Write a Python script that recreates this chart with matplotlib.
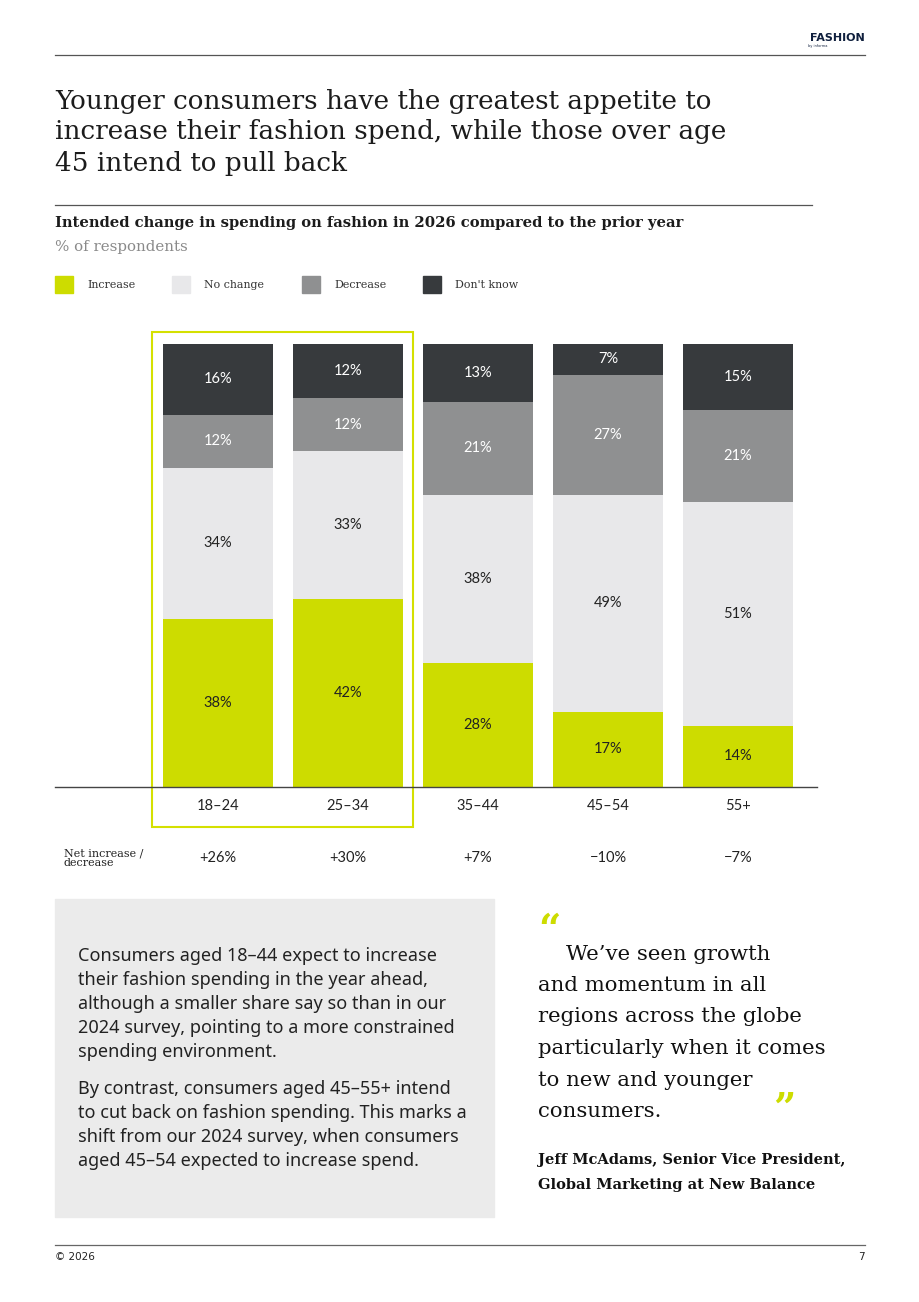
import numpy as np
import matplotlib.pyplot as plt
from matplotlib.patches import Rectangle

# data
ages = ["18–24", "25–34", "35–44", "45–54", "55+"]
increase = [38, 42, 28, 17, 14]
no_change = [34, 33, 38, 49, 51]
decrease = [12, 12, 21, 27, 21]
dont_know = [16, 12, 13, 7, 15]
net_labels = ["+26%", "+30%", "+7%", "−10%", "−7%"]

series_names = ["Increase", "No change", "Decrease", "Don't know"]
colors = ["#CDDC00", "#E8E8EA", "#8F9091", "#373A3D"]
label_colors = ["#222222", "#222222", "white", "white"]

W, H = 920, 1302
fig = plt.figure(figsize=(W / 100, H / 100), dpi=100)

def fx(x):
    return x / W

def fy(y):
    return 1 - y / H

SERIF = "DejaVu Serif"
SANS = "Lato"
TXT = "#1c1c1c"

# header
fig.text(fx(865), fy(38), "FASHION", family="DejaVu Sans", weight="bold", fontsize=8,
         color="#0f1f3d", ha="right", va="center")
fig.text(fx(808), fy(46), "by informa", family="DejaVu Sans", fontsize=2.5,
         color="#0f1f3d", ha="left", va="center")
fig.add_artist(plt.Line2D([fx(55), fx(865)], [fy(55), fy(55)], color="#555555", lw=0.9))

# title
title_lines = ["Younger consumers have the greatest appetite to",
               "increase their fashion spend, while those over age",
               "45 intend to pull back"]
for i, line in enumerate(title_lines):
    fig.text(fx(55), fy(101 + i * 31), line, family=SERIF, fontsize=18.9,
             color=TXT, ha="left", va="center")

fig.add_artist(plt.Line2D([fx(55), fx(812)], [fy(205), fy(205)], color="#555555", lw=0.9))
fig.text(fx(55), fy(223), "Intended change in spending on fashion in 2026 compared to the prior year",
         family=SERIF, weight="bold", fontsize=10.6, color=TXT, ha="left", va="center")
fig.text(fx(55), fy(247), "% of respondents", family=SERIF, fontsize=10.8,
         color="#8a8a8a", ha="left", va="center")

# legend
leg_sq = [55, 172, 302, 423]
for name, c, xs in zip(series_names, colors, leg_sq):
    fig.add_artist(Rectangle((fx(xs), fy(293)), 18 / W, 17 / H, color=c,
                             transform=fig.transFigure))
    fig.text(fx(xs + 32), fy(285), name, family=SERIF, fontsize=7.9,
             color="#333333", ha="left", va="center")

# chart
ax = fig.add_axes([fx(55), fy(787), (817 - 55) / W, (787 - 332) / H])
x = np.arange(len(ages))
data = np.array([increase, no_change, decrease, dont_know], dtype=float)
shares = data / data.sum(axis=0) * 100
bottom = np.zeros(len(ages))
for k in range(4):
    ax.bar(x, shares[k], 0.846, bottom=bottom, color=colors[k], linewidth=0)
    for i in range(len(ages)):
        ax.text(x[i], bottom[i] + shares[k][i] / 2, f"{int(data[k][i])}%",
                family=SANS, fontsize=10.5, color=label_colors[k],
                ha="center", va="center")
    bottom += shares[k]

ax.set_xlim(-1.2538, 4.6077)
ax.set_ylim(0, 102.7)
for s in ["top", "right", "left"]:
    ax.spines[s].set_visible(False)
ax.spines["bottom"].set_color("#444444")
ax.spines["bottom"].set_linewidth(1)
ax.set_yticks([])
ax.set_xticks(x, ages)
ax.tick_params(axis="x", length=0, pad=9, labelsize=10.5, labelcolor="#222222")
for lab in ax.get_xticklabels():
    lab.set_family(SANS)

# highlight box around the two youngest groups
ax.add_patch(Rectangle((x[0] - 0.508, -0.088), (x[1] + 0.5) - (x[0] - 0.508), 1.088,
                       transform=ax.get_xaxis_transform(), fill=False,
                       edgecolor="#D4E000", lw=1.5, clip_on=False))

# net row
tr = ax.get_xaxis_transform()
for i, t in enumerate(net_labels):
    ax.text(x[i], -0.156, t, transform=tr, family=SANS, fontsize=10.5,
            color="#222222", ha="center", va="center")
fig.text(fx(64), fy(858), "Net increase /\ndecrease", family=SERIF, fontsize=8,
         color="#222222", ha="left", va="center", linespacing=0.95)

# text box
fig.add_artist(Rectangle((fx(55), fy(1217)), (494 - 55) / W, (1217 - 899) / H,
                         color="#EBEBEB", transform=fig.transFigure, zorder=0))
para1 = ["Consumers aged 18–44 expect to increase",
         "their fashion spending in the year ahead,",
         "although a smaller share say so than in our",
         "2024 survey, pointing to a more constrained",
         "spending environment."]
para2 = ["By contrast, consumers aged 45–55+ intend",
         "to cut back on fashion spending. This marks a",
         "shift from our 2024 survey, when consumers",
         "aged 45–54 expected to increase spend."]
for i, line in enumerate(para1):
    fig.text(fx(78), fy(956 + i * 24), line, family="Noto Sans", fontsize=13,
             color="#222222", ha="left", va="center")
for i, line in enumerate(para2):
    fig.text(fx(78), fy(1089 + i * 24), line, family="Noto Sans", fontsize=13,
             color="#222222", ha="left", va="center")

# quote
fig.text(fx(538), fy(931), "\u201c", family=SERIF, weight="bold", fontsize=28,
         color="#CDDC00", ha="left", va="center")
quote = ["We\u2019ve seen growth",
         "and momentum in all",
         "regions across the globe",
         "particularly when it comes",
         "to new and younger",
         "consumers."]
for i, line in enumerate(quote):
    xs = 566 if i == 0 else 538
    fig.text(fx(xs), fy(954 + i * 31.5), line, family=SERIF, fontsize=15.3,
             color="#111111", ha="left", va="center")
fig.text(fx(773), fy(1110), "\u201d", family=SERIF, weight="bold", fontsize=28,
         color="#CDDC00", ha="left", va="center")
fig.text(fx(538), fy(1160), "Jeff McAdams, Senior Vice President,", family=SERIF,
         weight="bold", fontsize=10.5, color="#111111", ha="left", va="center")
fig.text(fx(538), fy(1185), "Global Marketing at New Balance", family=SERIF,
         weight="bold", fontsize=10.5, color="#111111", ha="left", va="center")

# footer
fig.add_artist(plt.Line2D([fx(55), fx(865)], [fy(1245), fy(1245)], color="#666666", lw=0.9))
fig.text(fx(55), fy(1257), "© 2026", family="DejaVu Sans", fontsize=7.5,
         color="#222222", ha="left", va="center")
fig.text(fx(865), fy(1257), "7", family="DejaVu Sans", fontsize=7.5,
         color="#222222", ha="right", va="center")

fig.savefig("out.png", dpi=100)
